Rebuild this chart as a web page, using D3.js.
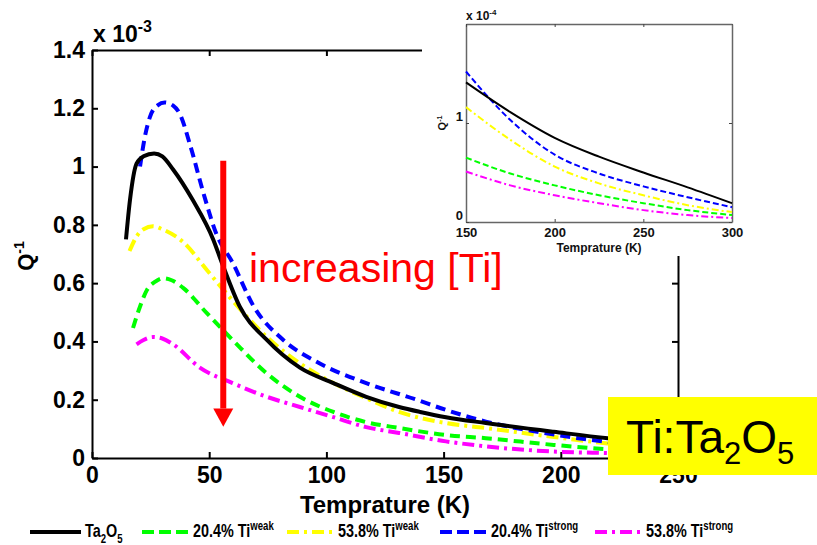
<!DOCTYPE html>
<html>
<head>
<meta charset="utf-8">
<script src="https://cdn.jsdelivr.net/npm/d3@7"></script>
<style>
  body { margin: 0; background: #fff; }
  svg { display: block; font-family: Arial, "Liberation Sans", sans-serif; }
</style>
</head>
<body>
<div id="chart"></div>
<script>
// main plot, temperature in K, Q^-1 in units of 1e-3
const ta2o5T = [14.5, 16.2, 19, 22, 26.5, 30, 34.6, 43, 51.7, 55.4, 63, 74.6, 88.7, 103, 117, 131, 140, 151, 168, 197, 220, 250];
const ta2o5Q = [0.75, 0.885, 1.01, 1.035, 1.045, 1.035, 0.99, 0.885, 0.75, 0.67, 0.52, 0.405, 0.31, 0.257, 0.21, 0.175, 0.158, 0.14, 0.12, 0.09, 0.068, 0.05];

const weak20T = [17.5, 20.5, 23.4, 27, 30.4, 34, 39, 49, 60, 74.6, 88.7, 103, 117, 131, 151, 168, 197, 220, 250];
const weak20Q = [0.446, 0.52, 0.576, 0.605, 0.617, 0.61, 0.583, 0.497, 0.405, 0.29, 0.21, 0.158, 0.123, 0.103, 0.079, 0.068, 0.045, 0.03, 0.019];

const weak54T = [16, 19, 22, 26, 30, 39, 49, 60, 74.6, 88.7, 103, 117, 131, 151, 168, 197, 220, 250];
const weak54Q = [0.71, 0.76, 0.785, 0.795, 0.785, 0.74, 0.645, 0.54, 0.415, 0.325, 0.257, 0.205, 0.158, 0.12, 0.103, 0.072, 0.05, 0.03];

const strong20T = [20.5, 22.5, 24.7, 28, 31, 34.5, 37.5, 42, 47.5, 53, 60, 69, 81.6, 97, 117, 138.5, 151, 168, 190, 220, 250];
const strong20Q = [1.0, 1.10, 1.17, 1.21, 1.22, 1.21, 1.18, 1.07, 0.91, 0.77, 0.67, 0.52, 0.405, 0.325, 0.257, 0.2, 0.165, 0.125, 0.09, 0.055, 0.036];

const strong54T = [19, 22, 26, 30, 34.6, 46, 60, 74.6, 88.7, 103, 117, 131, 151, 168, 197, 220, 250];
const strong54Q = [0.39, 0.405, 0.415, 0.41, 0.39, 0.31, 0.257, 0.21, 0.175, 0.14, 0.106, 0.086, 0.057, 0.04, 0.022, 0.017, 0.012];

// inset, temperature in K, Q^-1 in units of 1e-4
const insetT = [150, 175, 200, 225, 250, 275, 300];
const insetTa2o5 = [1.41, 1.11, 0.85, 0.66, 0.50, 0.35, 0.19];
const insetWeak20 = [0.65, 0.49, 0.37, 0.27, 0.19, 0.12, 0.07];
const insetWeak54 = [1.16, 0.83, 0.56, 0.39, 0.27, 0.17, 0.10];
const insetStrong20 = [1.52, 1.03, 0.68, 0.49, 0.36, 0.25, 0.15];
const insetStrong54 = [0.51, 0.37, 0.27, 0.19, 0.12, 0.07, 0.04];

const mainXTicks = [0, 50, 100, 150, 200, 250];
const mainYTicks = [0, 0.2, 0.4, 0.6, 0.8, 1, 1.2, 1.4];
const insetXTicks = [150, 200, 250, 300];
const insetYTicks = [0, 1];

const legendLabels = ["Ta_2O_5", "20.4% Ti^weak", "53.8% Ti^weak", "20.4% Ti^strong", "53.8% Ti^strong"];
const colors = ["#000000", "#00ff00", "#ffff00", "#0000ff", "#ff00ff"];
const dashMain = [null, "10,6", "12,5,3,5", "10,6", "12,5,3,5"];
const dashInset = [null, "6,3", "7,3,2,3", "6,3", "7,3,2,3"];
const dashLegend = [null, "12,5", "12,5,3,5", "12,5", "12,5,3,5"];

const mainSeries = [
  d3.zip(ta2o5T, ta2o5Q),
  d3.zip(weak20T, weak20Q),
  d3.zip(weak54T, weak54Q),
  d3.zip(strong20T, strong20Q),
  d3.zip(strong54T, strong54Q)
];
const insetSeries = [insetTa2o5, insetWeak20, insetWeak54, insetStrong20, insetStrong54]
  .map(v => d3.zip(insetT, v));

const width = 817, height = 545;

const svg = d3.select("#chart")
  .append("svg")
  .attr("width", width)
  .attr("height", height);

// text with _sub and ^sup parts
function rich(sel, str, size, small, sub, sup) {
  let off = 0;
  str.split(/(_[0-9]+|\^[A-Za-z0-9\-]+)/).filter(s => s).forEach(tok => {
    let target = 0, txt = tok, fs = size;
    if (tok[0] === "_") { target = sub; txt = tok.slice(1); fs = small; }
    else if (tok[0] === "^") { target = -sup; txt = tok.slice(1); fs = small; }
    sel.append("tspan").attr("dy", target - off).style("font-size", fs + "px").text(txt);
    off = target;
  });
}

// ---- main plot ----
const x = d3.scaleLinear().domain([0, 250]).range([92, 678]);
const y = d3.scaleLinear().domain([0, 1.4]).range([458, 50]);

const main = svg.append("g");

const styleAxis = (g, fs) => {
  g.select(".domain").attr("stroke", "#000").attr("stroke-width", 2);
  g.selectAll(".tick line").attr("stroke", "#000").attr("stroke-width", 2);
  g.selectAll(".tick text")
    .attr("fill", "#000")
    .style("font-size", fs + "px")
    .style("font-weight", "bold")
    .style("font-family", "Arial, 'Liberation Sans', sans-serif");
};

main.append("g")
  .attr("transform", `translate(0,${y(0)})`)
  .call(d3.axisBottom(x).tickValues(mainXTicks).tickSizeInner(-6).tickSizeOuter(0).tickPadding(9))
  .call(g => styleAxis(g, 23));

main.append("g")
  .attr("transform", `translate(${x(0)},0)`)
  .call(d3.axisLeft(y).tickValues(mainYTicks).tickSizeInner(-6).tickSizeOuter(0).tickPadding(7)
    .tickFormat(d => String(+d.toFixed(1))))
  .call(g => styleAxis(g, 23));

main.append("g")
  .attr("transform", `translate(0,${y(1.4)})`)
  .call(d3.axisTop(x).tickValues(mainXTicks).tickSizeInner(-6).tickSizeOuter(0).tickFormat(""))
  .call(g => styleAxis(g, 23));

main.append("g")
  .attr("transform", `translate(${x(250)},0)`)
  .call(d3.axisRight(y).tickValues(mainYTicks).tickSizeInner(-6).tickSizeOuter(0).tickFormat(""))
  .call(g => styleAxis(g, 23));

svg.append("clipPath").attr("id", "mainClip")
  .append("rect").attr("x", x(0)).attr("y", y(1.4))
  .attr("width", x(250) - x(0)).attr("height", y(0) - y(1.4));

const line = d3.line()
  .x(d => x(d[0]))
  .y(d => y(d[1]))
  .curve(d3.curveMonotoneX);

// draw order as in the figure: magenta, green, yellow, blue, black on top
const order = [4, 1, 2, 3, 0];
main.append("g")
  .attr("clip-path", "url(#mainClip)")
  .selectAll("path")
  .data(order)
  .join("path")
  .attr("fill", "none")
  .attr("stroke", i => colors[i])
  .attr("stroke-width", 4)
  .attr("stroke-dasharray", i => dashMain[i])
  .attr("d", i => line(mainSeries[i]));

// multiplier and axis labels
rich(main.append("text")
  .attr("x", 93).attr("y", 42)
  .style("font-weight", "bold"), "x 10^-3", 23, 16, 0, 10);

rich(main.append("text")
  .attr("transform", "translate(33,256) rotate(-90)")
  .attr("text-anchor", "middle")
  .style("font-weight", "bold"), "Q^-1", 22, 14, 0, 9);

main.append("text")
  .attr("x", (x(0) + x(250)) / 2)
  .attr("y", 513)
  .attr("text-anchor", "middle")
  .style("font-weight", "bold")
  .style("font-size", "24px")
  .text("Temprature (K)");

// arrow annotation
const arrowT = 56;
main.append("line")
  .attr("x1", x(arrowT)).attr("x2", x(arrowT))
  .attr("y1", y(1.02)).attr("y2", y(0.17))
  .attr("stroke", "#ff0000")
  .attr("stroke-width", 6);
main.append("path")
  .attr("d", `M${x(arrowT) - 10},${y(0.17)} L${x(arrowT) + 10},${y(0.17)} L${x(arrowT)},${y(0.107)} Z`)
  .attr("fill", "#ff0000");

// ---- inset ----
const inset = svg.append("g");
inset.append("rect")
  .attr("x", 422).attr("y", 0)
  .attr("width", width - 422).attr("height", 256)
  .attr("fill", "#fff");

const xi = d3.scaleLinear().domain([150, 300]).range([466, 732]);
const yi = d3.scaleLinear().domain([0, 2]).range([222, 24]);

const styleInset = g => {
  g.select(".domain").attr("stroke", "#666").attr("stroke-width", 1.5);
  g.selectAll(".tick line").attr("stroke", "#444").attr("stroke-width", 1);
  g.selectAll(".tick text")
    .attr("fill", "#111")
    .style("font-size", "13px")
    .style("font-weight", "bold");
};

inset.append("g")
  .attr("transform", `translate(0,${yi(0)})`)
  .call(d3.axisBottom(xi).tickValues(insetXTicks).tickSizeInner(-3).tickSizeOuter(0).tickPadding(6))
  .call(styleInset);
inset.append("g")
  .attr("transform", `translate(${xi(150)},0)`)
  .call(d3.axisLeft(yi).tickValues(insetYTicks).tickSizeInner(-3).tickSizeOuter(0).tickPadding(3)
    .tickFormat(d3.format("d")))
  .call(styleInset)
  .call(g => g.selectAll(".tick text").attr("dy", "-0.2em"));
inset.append("g")
  .attr("transform", `translate(0,${yi(2)})`)
  .call(d3.axisTop(xi).tickValues(insetXTicks).tickSizeInner(-3).tickSizeOuter(0).tickFormat(""))
  .call(styleInset);
inset.append("g")
  .attr("transform", `translate(${xi(300)},0)`)
  .call(d3.axisRight(yi).tickValues(insetYTicks).tickSizeInner(-3).tickSizeOuter(0).tickFormat(""))
  .call(styleInset);

const lineI = d3.line()
  .x(d => xi(d[0]))
  .y(d => yi(d[1]))
  .curve(d3.curveMonotoneX);

inset.append("g")
  .selectAll("path")
  .data(order)
  .join("path")
  .attr("fill", "none")
  .attr("stroke", i => colors[i])
  .attr("stroke-width", 2)
  .attr("stroke-dasharray", i => dashInset[i])
  .attr("d", i => lineI(insetSeries[i]));

rich(inset.append("text")
  .attr("x", 466).attr("y", 20)
  .attr("fill", "#111")
  .style("font-weight", "bold"), "x 10^-4", 12, 8, 0, 5);

rich(inset.append("text")
  .attr("transform", `translate(446,${yi(1)}) rotate(-90)`)
  .attr("text-anchor", "middle")
  .attr("fill", "#111")
  .style("font-weight", "bold"), "Q^-1", 11, 7, 0, 4);

inset.append("text")
  .attr("x", (xi(150) + xi(300)) / 2)
  .attr("y", 252)
  .attr("text-anchor", "middle")
  .attr("fill", "#111")
  .style("font-weight", "bold")
  .style("font-size", "12px")
  .text("Temprature (K)");

// red annotation text sits above the inset
svg.append("text")
  .attr("x", 249)
  .attr("y", 282)
  .attr("fill", "#ff0000")
  .style("font-size", "41px")
  .text("increasing [Ti]");

// ---- yellow label box ----
svg.append("rect")
  .attr("x", 608).attr("y", 397)
  .attr("width", width - 608).attr("height", 78)
  .attr("fill", "#ffff00");
rich(svg.append("text")
  .attr("x", 626).attr("y", 453)
  .attr("fill", "#000"), "Ti:Ta_2O_5", 46, 31, 11, 0);

// ---- legend ----
const legendX = [30, 142, 287, 440, 595];
const legend = svg.append("g")
  .style("font-weight", "bold");

const item = legend.selectAll("g")
  .data(d3.range(legendLabels.length))
  .join("g")
  .attr("transform", i => `translate(${legendX[i]},532)`);

item.append("line")
  .attr("x1", 0).attr("x2", i => i === 0 ? 51 : 46)
  .attr("stroke", i => colors[i])
  .attr("stroke-width", 4)
  .attr("stroke-dasharray", i => dashLegend[i]);

// narrow lettering like the original legend
item.append("text")
  .attr("transform", i => `translate(${i === 0 ? 55 : 51},5) scale(0.8,1)`)
  .attr("fill", "#000")
  .each(function (i) {
    rich(d3.select(this), legendLabels[i], 18, 12, 6, 7);
  });
</script>
</body>
</html>
